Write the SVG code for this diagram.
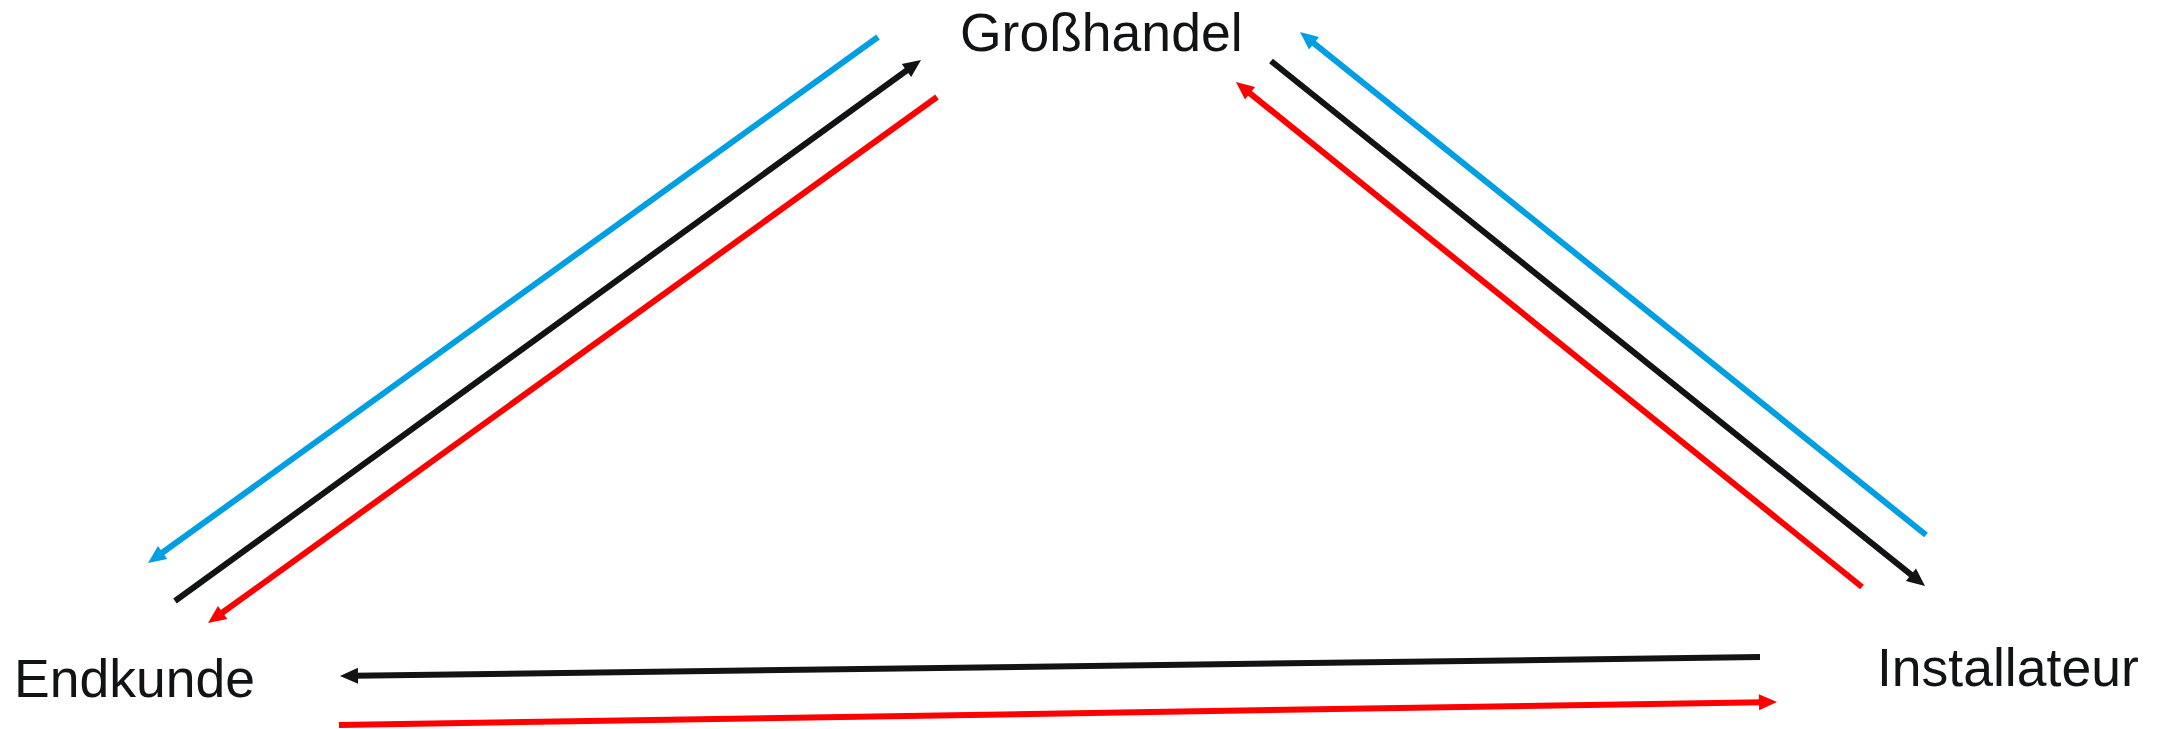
<svg xmlns="http://www.w3.org/2000/svg" width="2159" height="729" viewBox="0 0 2159 729">
  <style>
    .lbl { font-family: "Liberation Sans", Arial, sans-serif; font-size: 53.5px; fill: #111314; }
    .c { fill: none; stroke-width: 6; stroke-linecap: butt; }
    .blue { stroke: #009fe3; }
    .black { stroke: #111314; }
    .red { stroke: #ff0000; }
  </style>
  <defs>
    <marker id="ahBlue" markerUnits="userSpaceOnUse" markerWidth="18" markerHeight="16" refX="4" refY="8" orient="auto" overflow="visible">
      <path d="M0,0 L18,8 L0,16 z" fill="#009fe3"/>
    </marker>
    <marker id="ahBlack" markerUnits="userSpaceOnUse" markerWidth="18" markerHeight="16" refX="4" refY="8" orient="auto" overflow="visible">
      <path d="M0,0 L18,8 L0,16 z" fill="#111314"/>
    </marker>
    <marker id="ahRed" markerUnits="userSpaceOnUse" markerWidth="18" markerHeight="16" refX="4" refY="8" orient="auto" overflow="visible">
      <path d="M0,0 L18,8 L0,16 z" fill="#ff0000"/>
    </marker>
  </defs>

  <g id="node-grosshandel">
    <text class="lbl" x="960" y="51">Großhandel</text>
  </g>
  <g id="node-endkunde">
    <text class="lbl" x="14" y="697">Endkunde</text>
  </g>
  <g id="node-installateur">
    <text class="lbl" x="1877" y="686">Installateur</text>
  </g>

  <g id="connectors">
    <line class="c blue" x1="878" y1="37" x2="159.4" y2="554.8" marker-end="url(#ahBlue)"/>
    <line class="c black" x1="175" y1="601" x2="909.7" y2="68.2" marker-end="url(#ahBlack)"/>
    <line class="c red" x1="937" y1="97" x2="219.4" y2="614.8" marker-end="url(#ahRed)"/>
    <line class="c blue" x1="1926" y1="535" x2="1310.9" y2="40.8" marker-end="url(#ahBlue)"/>
    <line class="c black" x1="1271" y1="61" x2="1914.1" y2="577.2" marker-end="url(#ahBlack)"/>
    <line class="c red" x1="1862" y1="587" x2="1246.9" y2="90.8" marker-end="url(#ahRed)"/>
    <line class="c black" x1="1760" y1="657" x2="354" y2="675.8" marker-end="url(#ahBlack)"/>
    <line class="c red" x1="339" y1="725" x2="1763" y2="702.2" marker-end="url(#ahRed)"/>
  </g>
</svg>
